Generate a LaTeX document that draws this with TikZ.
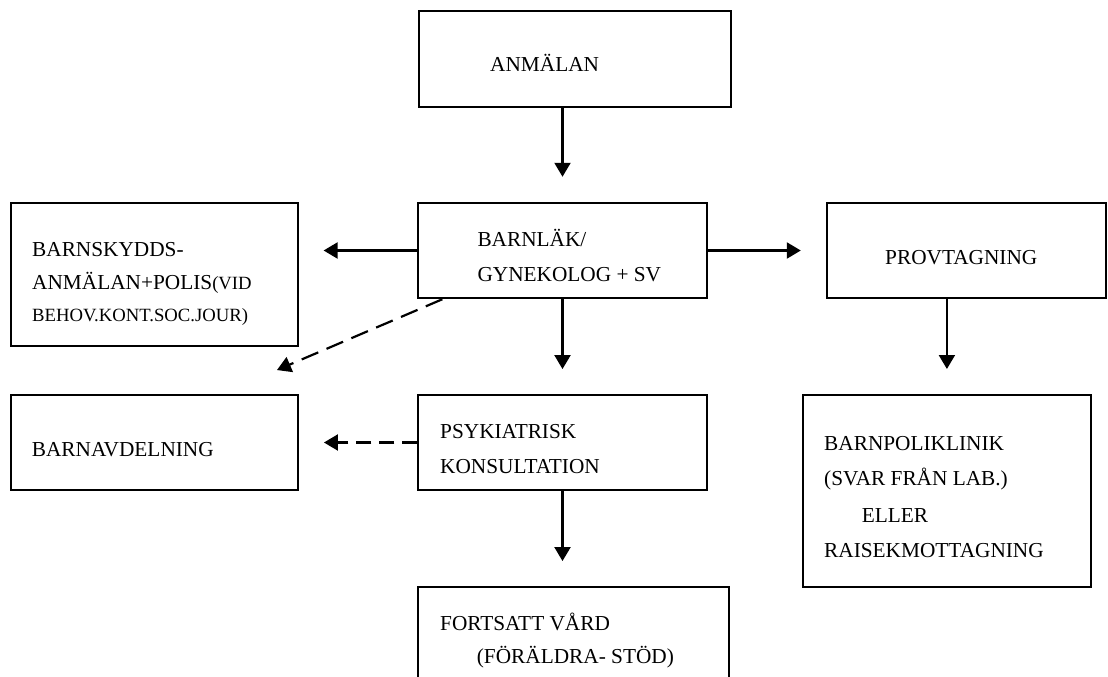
\documentclass[tikz,border=0pt]{standalone}
\usepackage{fontspec}
\setmainfont{Liberation Serif}
\usepackage{tikz}
\usetikzlibrary{arrows.meta}

\newcommand{\bigtxt}{\fontsize{21.3}{24}\selectfont}
\newcommand{\smtxt}{\fontsize{18.7}{22}\selectfont}

\tikzset{
    ruta/.style={draw, line width=1.9pt, rectangle, inner sep=0pt},
    txt/.style={anchor=base west, inner sep=0pt, font=\bigtxt},
    pil/.style={line width=2.2pt, -{Triangle[length=14pt,width=16pt]}, shorten >=25pt},
    strecpil/.style={pil, dash pattern=on 15pt off 8pt}
}

\begin{document}
\begin{tikzpicture}[x=1pt,y=-1pt] % pixelkoordinater, y nedåt
        \useasboundingbox (0,0) rectangle (1108,677);
        \clip (0,0) rectangle (1108,677);
        % rutor
        \node[ruta, minimum width=312pt, minimum height=96pt] (anmalan) at (574.7,58.7) {};
        \node[ruta, minimum width=288.4pt, minimum height=95.6pt] (barnlak) at (562.5,250.5) {};
        \node[ruta, minimum width=286.7pt, minimum height=143pt] (bsk) at (154.3,274.2) {};
        \node[ruta, minimum width=279.5pt, minimum height=95.6pt] (provtag) at (966.5,250.5) {};
        \node[ruta, minimum width=287pt, minimum height=95pt] (barnavd) at (154.5,442.5) {};
        \node[ruta, minimum width=288.4pt, minimum height=95pt] (psyk) at (562.5,442.5) {};
        \node[ruta, minimum width=288.3pt, minimum height=191.7pt] (barnpol) at (946.9,490.8) {};
        \node[ruta, minimum width=311pt, minimum height=113pt] (fortsatt) at (573.8,643.5) {};

        % texter
        \node[txt] (t-anm) at (490,71.7) {ANMÄLAN};
        \node[txt] (t-bl1) at (477.3,246.7) {BARNLÄK/};
        \node[txt] (t-bl2) at (477.3,281.7) {GYNEKOLOG + SV};
        \node[txt] (t-bsk1) at (32,256.7) {BARNSKYDDS-};
        \node[txt] (t-bsk2) at (32,289) {ANMÄLAN+POLIS{\smtxt(VID}};
        \node[txt, font=\smtxt] (t-bsk3) at (32,321) {BEHOV.KONT.SOC.JOUR)};
        \node[txt] (t-prov) at (885,264) {PROVTAGNING};
        \node[txt] (t-bav) at (31.7,456) {BARNAVDELNING};
        \node[txt] (t-ps1) at (440,438.3) {PSYKIATRISK};
        \node[txt] (t-ps2) at (440,473.3) {KONSULTATION};
        \node[txt] (t-fo1) at (440,630.7) {FORTSATT VÅRD};
        \node[txt] (t-fo2) at (476.7,663.3) {(FÖRÄLDRA- STÖD)};
        \node[txt] (t-bp1) at (824,450) {BARNPOLIKLINIK};
        \node[txt] (t-bp2) at (824,485.3) {(SVAR FRÅN LAB.)};
        \node[txt] (t-bp3) at (861.7,522) {ELLER};
        \node[txt] (t-bp4) at (824,557.3) {RAISEKMOTTAGNING};

        % pilar
        \draw[pil] (anmalan.south -| barnlak.north) -- (barnlak.north);
        \draw[pil] (barnlak.west) -- (bsk.east |- barnlak.west);
        \draw[pil] (barnlak.east) -- (provtag.west);
        \draw[pil] (barnlak.south) -- (psyk.north);
        \draw[pil] (provtag.south -| barnpol.north) -- (barnpol.north);
        \draw[pil] (psyk.south) -- (fortsatt.north -| psyk.south);
        \draw[strecpil] (psyk.west) -- (barnavd.east);
        \draw[strecpil, shorten >=0pt, dash pattern=on 18pt off 9pt] ([xshift=25pt]barnlak.south west) -- ([xshift=-22pt,yshift=24pt]barnavd.north east);
    \end{tikzpicture}
\end{document}
